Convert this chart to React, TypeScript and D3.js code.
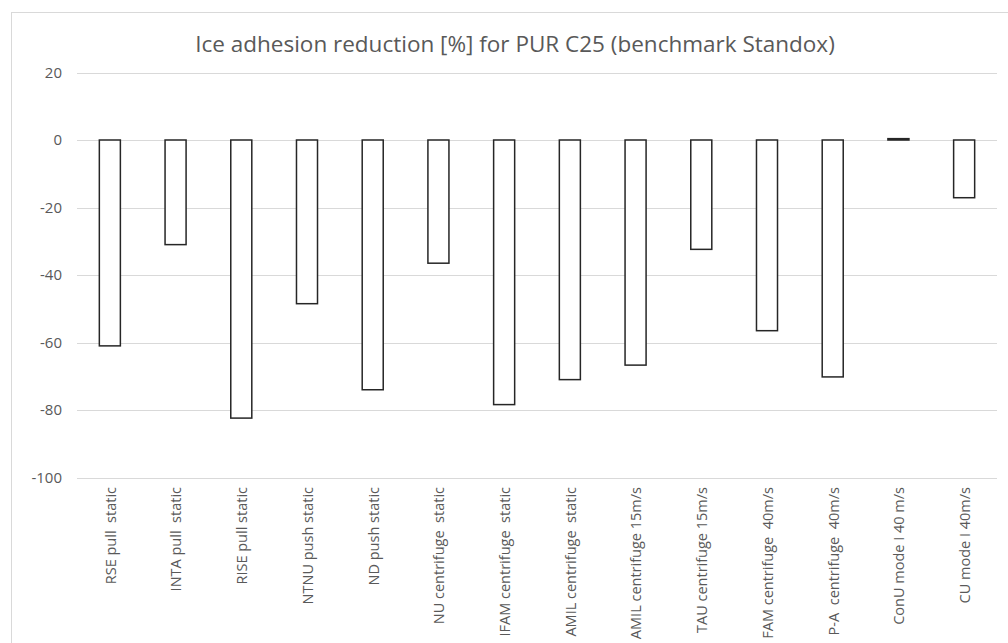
import React from 'react';
import * as d3 from 'd3';

const categories = [
  'RSE pull  static',
  'INTA pull  static',
  'RISE pull static',
  'NTNU push static',
  'ND push static',
  'NU centrifuge  static',
  'IFAM centrifuge  static',
  'AMIL centrifuge  static',
  'AMIL centrifuge 15m/s',
  'TAU centrifuge 15m/s',
  'FAM centrifuge  40m/s',
  'P-A  centrifuge  40m/s',
  'ConU mode I 40 m/s',
  'CU mode I 40m/s',
];
const values = [-61, -31, -82.4, -48.5, -74, -36.5, -78.4, -71, -66.7, -32.4, -56.5, -70.2, 0.4, -17.1];
const yTicks = [20, 0, -20, -40, -60, -80, -100];
const title = 'Ice adhesion reduction [%] for PUR C25 (benchmark Standox)';

const W = 1008;
const H = 643;
const font = '"Open Sans", "Liberation Sans", sans-serif';
const textColor = '#595959';

const App: React.FC = () => {
  const x = d3.scaleBand<string>()
    .domain(categories)
    .range([77, 997])
    .paddingInner(0.68)
    .paddingOuter(0.34);

  const y = d3.scaleLinear()
    .domain([-100, 20])
    .range([477.5, 72.5]);

  return (
    <svg width={W} height={H} style={{ position: 'absolute', left: 0, top: 0 }} fontFamily={font}>
      <rect x={0} y={0} width={W} height={H} fill="#fff" />
      {/* chart frame */}
      <rect x={11.5} y={12.5} width={W + 20} height={H + 20} fill="none" stroke="#d9d9d9" strokeWidth={1} />

      <text x={515} y={52} textAnchor="middle" fontSize={22.5} fill={textColor}>{title}</text>

      {/* gridlines + y labels */}
      {yTicks.map(t => (
        <g key={t}>
          <line x1={77} x2={997} y1={Math.round(y(t)) + 0.5} y2={Math.round(y(t)) + 0.5} stroke="#d9d9d9" strokeWidth={1.2} />
          <text x={62} y={y(t)} dy="0.35em" textAnchor="end" fontSize={15} fill={textColor}>{t}</text>
        </g>
      ))}

      {/* bars */}
      {categories.map((c, i) => {
        const v = values[i];
        const top = y(Math.max(0, v));
        const bottom = y(Math.min(0, v));
        return (
          <rect
            key={c}
            x={x(c)!}
            y={top}
            width={x.bandwidth()}
            height={Math.max(0.5, bottom - top)}
            fill="#fff"
            stroke="#262626"
            strokeWidth={1.5}
          />
        );
      })}

      {/* category labels */}
      {categories.map(c => {
        const cx = x(c)! + x.bandwidth() / 2;
        return (
          <text
            key={c}
            transform={`translate(${cx},487) rotate(-90)`}
            textAnchor="end"
            dy="0.4em"
            fontSize={14.5}
            fill={textColor}
            xmlSpace="preserve"
          >
            {c}
          </text>
        );
      })}
    </svg>
  );
};

export default App;
